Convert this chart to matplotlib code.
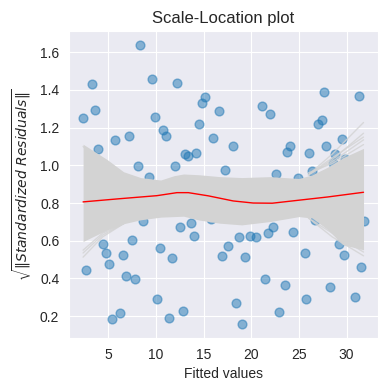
import numpy as np
import seaborn as sns
from matplotlib import pyplot as plt

sns.set_style('darkgrid')
plt.rcParams['font.family'] = ['Liberation Sans', 'DejaVu Sans']

# points
fitted = [2.36, 2.67, 3.30, 3.61, 3.92, 4.44, 4.76, 5.07, 5.42, 5.70,
          6.22, 6.53, 6.84, 7.16, 7.47, 7.78, 8.09, 8.30, 8.62, 9.24,
          9.55, 9.87, 10.08, 10.39, 10.70, 11.02, 11.33, 11.64, 11.95, 12.16,
          12.48, 12.79, 13.10, 13.41, 13.73, 14.04, 14.25, 14.56, 14.87, 15.19,
          15.81, 16.02, 16.65, 16.96, 17.27, 17.59, 18.11, 18.42, 18.73, 19.05,
          19.36, 19.88, 20.51, 21.13, 21.45, 21.76, 21.97, 22.28, 22.60, 22.91,
          23.53, 23.74, 24.05, 24.37, 24.89, 25.62, 25.79, 26.10, 26.42, 26.66,
          27.05, 27.42, 27.60, 27.88, 28.23, 28.54, 28.82, 29.17, 29.48, 29.69,
          29.86, 30.90, 31.25, 31.46, 31.77]
sqrt_res = [1.253, 0.447, 1.433, 1.295, 1.086, 0.582, 0.535, 0.477, 0.186, 1.133,
            0.218, 0.526, 0.415, 1.153, 0.603, 0.399, 0.999, 1.639, 0.707, 0.936,
            1.459, 1.258, 0.292, 0.561, 1.186, 1.158, 0.191, 0.508, 0.994, 1.438,
            0.672, 0.228, 1.058, 1.047, 0.693, 0.624, 1.063, 1.221, 1.332, 1.364,
            0.714, 1.147, 1.290, 0.519, 0.973, 0.572, 1.105, 0.270, 0.619, 0.159,
            0.513, 0.624, 0.619, 1.316, 0.397, 0.640, 1.274, 0.672, 0.952, 0.223,
            0.366, 1.068, 1.105, 0.646, 0.931, 0.536, 0.292, 1.063, 0.971, 0.711,
            1.221, 1.239, 1.390, 1.105, 0.355, 1.010, 1.058, 0.582, 1.137, 0.524,
            1.036, 0.302, 1.369, 0.461, 0.705]

# bootstrap band (envelope of the grey lines)
band_x = [2.36, 4.9, 6.6, 8.4, 10.5, 11.9, 12.9, 14.5, 16.7, 19.0, 22.0, 25.0, 26.4, 28.0, 29.6, 31.77]
band_hi = [1.112, 1.03, 0.966, 0.935, 0.922, 0.945, 0.954, 0.95, 0.94, 0.935, 0.94, 0.93, 0.95, 0.99, 1.04, 1.09]
band_lo = [0.596, 0.658, 0.69, 0.711, 0.725, 0.728, 0.73, 0.71, 0.693, 0.684, 0.702, 0.728, 0.72, 0.66, 0.579, 0.552]

# a few stray bootstrap lines at the ends
stray_left_x = [2.36, 4.4, 6.6]
stray_left_y = [[0.513, 0.62, 0.69], [0.55, 0.64, 0.69], [0.535, 0.63, 0.69],
                [1.10, 1.0, 0.95]]
stray_right_x = [26.0, 28.5, 31.77]
stray_right_y = [[0.95, 1.06, 1.227], [0.95, 1.03, 1.17], [0.95, 1.02, 1.135],
                 [0.95, 1.04, 1.15], [0.96, 1.01, 1.11],
                 [0.72, 0.62, 0.52], [0.72, 0.64, 0.54]]

# lowess line
lowess_x = [2.36, 6.0, 10.1, 12.2, 13.4, 15.5, 18.1, 20.2, 22.2, 25.0, 28.0, 31.77]
lowess_y = [0.806, 0.822, 0.839, 0.855, 0.855, 0.838, 0.811, 0.80, 0.799, 0.815, 0.832, 0.857]

fig = plt.figure(figsize=(3.88, 3.91), dpi=100)
ax = fig.add_axes([0.178, 0.136, 0.795, 0.785])

ax.scatter(fitted, sqrt_res, alpha=0.5, color='tab:blue', s=40, zorder=2)
ax.fill_between(band_x, band_lo, band_hi, color='lightgrey', lw=0, zorder=3)
for ys in stray_left_y:
    ax.plot(stray_left_x, ys, color='lightgrey', lw=1, alpha=0.8, zorder=3)
for ys in stray_right_y:
    ax.plot(stray_right_x, ys, color='lightgrey', lw=1, alpha=0.8, zorder=3)
ax.plot(lowess_x, lowess_y, color='red', lw=1, zorder=4)

ax.set_title('Scale-Location plot', fontsize=12)
ax.set_xlabel('Fitted values', fontsize=10)
ax.set_ylabel(r'$\sqrt{\|Standardized\ Residuals\|}$', fontsize=10)
ax.tick_params(labelsize=10)

fig.savefig('out.png', dpi=100)
